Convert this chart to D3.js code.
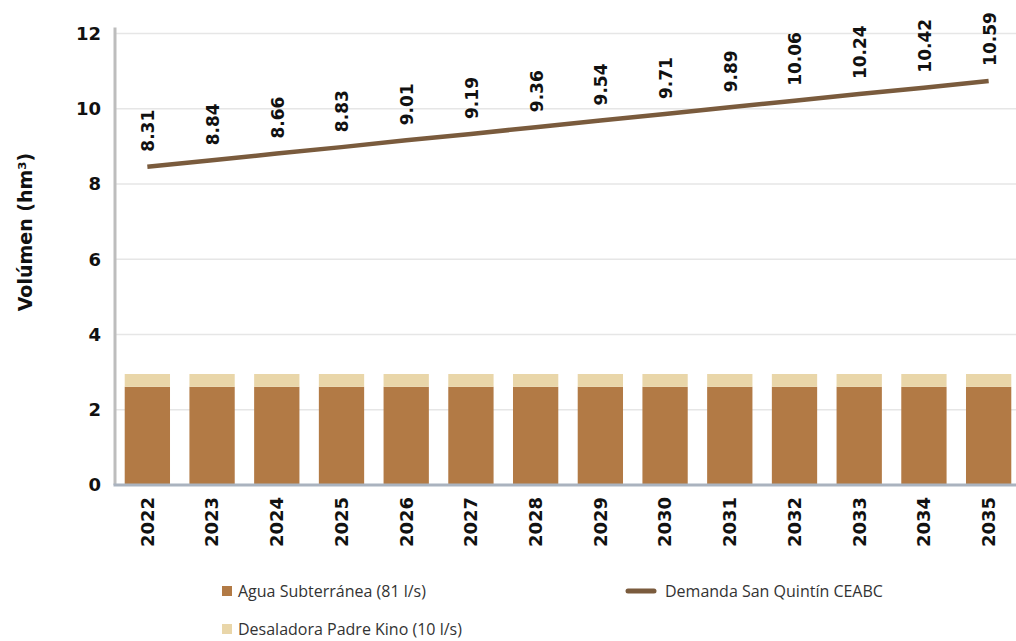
<!DOCTYPE html>
<html><head><meta charset="utf-8">
<script src="https://cdn.jsdelivr.net/npm/d3@7"></script>
<style>body{margin:0;background:#fff}svg{display:block}</style>
</head><body>
<script>
const years = ["2022","2023","2024","2025","2026","2027","2028","2029","2030","2031","2032","2033","2034","2035"];
const aguaSubterranea = [2.61,2.61,2.61,2.61,2.61,2.61,2.61,2.61,2.61,2.61,2.61,2.61,2.61,2.61];
const desaladora = [0.34,0.34,0.34,0.34,0.34,0.34,0.34,0.34,0.34,0.34,0.34,0.34,0.34,0.34];
const demandaLine = [8.46,8.63,8.81,8.98,9.16,9.33,9.51,9.69,9.86,10.04,10.21,10.39,10.56,10.74];
const demandaLabels = ["8.31","8.84","8.66","8.83","9.01","9.19","9.36","9.54","9.71","9.89","10.06","10.24","10.42","10.59"];
const yTicks = [0,2,4,6,8,10,12];

const W = 1016, H = 641;
const svg = d3.select("body").append("svg").attr("width", W).attr("height", H);
const x = d3.scaleBand().domain(years).range([115, 1021]).paddingInner(0.3).paddingOuter(0.15);
const y = d3.scaleLinear().domain([0, 12]).range([485, 33.5]);
const font = "'DejaVu Sans', sans-serif";

// gridlines
svg.append("g").selectAll("line").data(yTicks.filter(d => d > 0)).join("line")
  .attr("x1", 115).attr("x2", W).attr("y1", d => y(d)).attr("y2", d => y(d))
  .attr("stroke", "#e6e6e6").attr("stroke-width", 1.5);

// y axis
const yAxis = svg.append("g").attr("transform", "translate(115,0)")
  .call(d3.axisLeft(y).tickValues(yTicks).tickSize(0).tickPadding(14));
yAxis.select(".domain").attr("stroke", "#bdbdbd").attr("stroke-width", 3).attr("d", `M0,${y(12)-6}V${y(0)}`);
yAxis.selectAll("text").attr("font-family", font).attr("font-weight", "bold").attr("font-size", 18).attr("fill", "#111");

// bars
svg.append("g").selectAll("rect").data(years).join("rect")
  .attr("x", d => x(d)).attr("width", x.bandwidth())
  .attr("y", (d, i) => y(aguaSubterranea[i])).attr("height", (d, i) => y(0) - y(aguaSubterranea[i]))
  .attr("fill", "#b27a45");
svg.append("g").selectAll("rect").data(years).join("rect")
  .attr("x", d => x(d)).attr("width", x.bandwidth())
  .attr("y", (d, i) => y(aguaSubterranea[i] + desaladora[i])).attr("height", (d, i) => y(aguaSubterranea[i]) - y(aguaSubterranea[i] + desaladora[i]))
  .attr("fill", "#e9d6a9");

// x axis
const xAxis = svg.append("g").attr("transform", `translate(0,${y(0)})`)
  .call(d3.axisBottom(x).tickSize(0).tickPadding(0));
xAxis.select(".domain").attr("stroke", "#aab3bf").attr("stroke-width", 3).attr("d", `M113.5,0H${W}`);
xAxis.selectAll("text").attr("font-family", font).attr("font-weight", "bold").attr("font-size", 18).attr("fill", "#111")
  .attr("transform", "rotate(-90)").attr("text-anchor", "end").attr("dy", "0.35em").attr("x", -12).attr("y", 0);

// line
const line = d3.line().x((d, i) => x(years[i]) + x.bandwidth() / 2).y(d => y(d));
svg.append("path").datum(demandaLine).attr("d", line)
  .attr("fill", "none").attr("stroke", "#7a5b3d").attr("stroke-width", 4.5);

// labels
svg.append("g").selectAll("text").data(demandaLabels).join("text")
  .attr("transform", (d, i) => `translate(${x(years[i]) + x.bandwidth() / 2 + 1},${y(demandaLine[i]) - 15}) rotate(-90)`)
  .attr("dy", "0.35em").attr("text-anchor", "start")
  .attr("font-family", font).attr("font-weight", "bold").attr("font-size", 17).attr("fill", "#111")
  .text(d => d);

// y title
svg.append("text").attr("transform", "translate(25,232) rotate(-90)").attr("text-anchor", "middle")
  .attr("dy", "0.35em").attr("font-family", font).attr("font-weight", "bold").attr("font-size", 19).attr("fill", "#111")
  .text("Volúmen (hm³)");

// legend
const lg = svg.append("g").attr("font-family", "'Open Sans', sans-serif").attr("font-size", 16).attr("fill", "#333");
lg.append("rect").attr("x", 222).attr("y", 586).attr("width", 10).attr("height", 10).attr("fill", "#b27a45");
lg.append("text").attr("x", 238).attr("y", 591).attr("dy", "0.35em").text("Agua Subterránea (81 l/s)");
lg.append("rect").attr("x", 222).attr("y", 624).attr("width", 10).attr("height", 10).attr("fill", "#e9d6a9");
lg.append("text").attr("x", 238).attr("y", 629).attr("dy", "0.35em").text("Desaladora Padre Kino (10 l/s)");
lg.append("line").attr("x1", 628).attr("x2", 654).attr("y1", 591).attr("y2", 591)
  .attr("stroke", "#7a5b3d").attr("stroke-width", 5).attr("stroke-linecap", "round");
lg.append("text").attr("x", 665).attr("y", 591).attr("dy", "0.35em").text("Demanda San Quintín CEABC");
</script>
</body></html>
